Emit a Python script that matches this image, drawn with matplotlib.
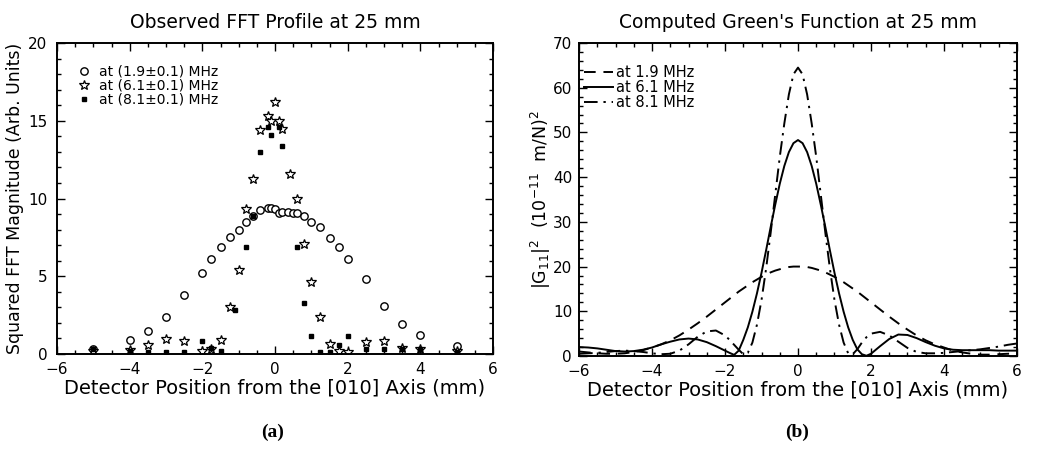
import matplotlib
matplotlib.use("Agg")
import matplotlib.pyplot as plt
from matplotlib.ticker import MultipleLocator

# ---------------- data: panel (a) ----------------
x_19 = [-5, -4, -3.5, -3, -2.5, -2, -1.75, -1.5, -1.25, -1.0, -0.8, -0.6, -0.4, -0.2, -0.1,
        0.0, 0.1, 0.2, 0.35, 0.5, 0.6, 0.8, 1.0, 1.25, 1.5, 1.75, 2.0, 2.5, 3.0, 3.5, 4.0, 5.0]
y_19 = [0.3, 0.9, 1.5, 2.35, 3.8, 5.2, 6.1, 6.9, 7.5, 8.0, 8.5, 8.9, 9.25, 9.4, 9.4,
        9.35, 9.1, 9.15, 9.15, 9.1, 9.05, 8.85, 8.5, 8.2, 7.45, 6.85, 6.1, 4.8, 3.1, 1.95, 1.25, 0.5]

x_61 = [-5, -4, -3.5, -3, -2.5, -2, -1.75, -1.5, -1.25, -1.0, -0.8, -0.6, -0.4, -0.2, -0.1,
        0.0, 0.1, 0.2, 0.4, 0.6, 0.8, 1.0, 1.25, 1.5, 1.75, 2.0, 2.5, 3.0, 3.5, 4.0, 5.0]
y_61 = [0.2, 0.25, 0.6, 0.95, 0.85, 0.2, 0.3, 0.9, 3.0, 5.4, 9.3, 11.25, 14.4, 15.3, 15.0,
        16.2, 15.0, 14.5, 11.6, 10.0, 7.1, 4.65, 2.4, 0.65, 0.2, 0.1, 0.8, 0.85, 0.4, 0.3, 0.2]

x_81 = [-5, -4, -3.5, -3, -2.5, -2, -1.75, -1.5, -1.1, -0.8, -0.6, -0.4, -0.2, -0.1,
        0.1, 0.2, 0.6, 0.8, 1.0, 1.25, 1.5, 1.75, 2.0, 2.5, 3.0, 3.5, 4.0, 5.0]
y_81 = [0.3, 0.2, 0.15, 0.15, 0.1, 0.85, 0.4, 0.2, 2.85, 6.9, 8.9, 13.0, 14.6, 14.1,
        14.6, 13.4, 6.85, 3.3, 1.15, 0.1, 0.1, 0.6, 1.15, 0.3, 0.3, 0.3, 0.3, 0.1]

labels_a = ["at (1.9\u00b10.1) MHz", "at (6.1\u00b10.1) MHz", "at (8.1\u00b10.1) MHz"]

# ---------------- data: panel (b) ----------------
x_g = [-6, -5.75, -5.5, -5.25, -5, -4.75, -4.5, -4.25, -4, -3.75, -3.5, -3.25, -3, -2.75,
       -2.5, -2.25, -2, -1.875, -1.75, -1.625, -1.5, -1.375, -1.25, -1.125, -1, -0.875,
       -0.75, -0.625, -0.5, -0.375, -0.25, -0.125, 0, 0.125, 0.25, 0.375, 0.5, 0.625, 0.75,
       0.875, 1, 1.125, 1.25, 1.375, 1.5, 1.625, 1.75, 1.875, 2, 2.25, 2.5, 2.75, 3, 3.25,
       3.5, 3.75, 4, 4.25, 4.5, 4.75, 5, 5.25, 5.5, 5.75, 6]
g_19 = [1.0, 0.8, 0.6, 0.5, 0.5, 0.6, 0.9, 1.3, 1.9, 2.6, 3.5, 4.6, 5.9, 7.3,
        8.8, 10.4, 12.0, 12.8, 13.6, 14.4, 15.1, 15.8, 16.5, 17.1, 17.7, 18.2,
        18.7, 19.1, 19.4, 19.7, 19.9, 20.0, 20.0, 20.0, 19.9, 19.7, 19.4, 19.1, 18.7,
        18.2, 17.7, 17.1, 16.5, 15.8, 15.1, 14.4, 13.6, 12.8, 12.0, 10.4, 8.8, 7.3, 5.9, 4.6,
        3.5, 2.6, 1.9, 1.2, 0.8, 0.5, 0.3, 0.3, 0.4, 0.5, 0.6]
g_61 = [2.0, 1.9, 1.7, 1.4, 1.1, 1.0, 1.1, 1.4, 1.9, 2.6, 3.2, 3.7, 3.9, 3.7,
        3.1, 2.2, 1.2, 0.7, 0.25, 1.2, 3.6, 6.4, 9.9, 14.0, 18.6, 23.6,
        28.8, 33.8, 38.5, 42.5, 45.6, 47.6, 48.3, 47.6, 45.6, 42.5, 38.5, 33.8, 28.8,
        23.6, 18.6, 14.0, 9.9, 6.4, 3.6, 1.5, 0.4, 0.05, 0.5, 2.2, 3.8, 4.8, 4.7, 4.0,
        3.1, 2.3, 1.7, 1.4, 1.3, 1.3, 1.3, 1.3, 1.2, 1.2, 1.2]
g_81 = [0.5, 0.6, 0.7, 0.9, 1.1, 1.2, 1.1, 0.9, 0.6, 0.4, 0.5, 1.2, 2.6, 4.3,
        5.5, 5.7, 4.6, 3.6, 2.5, 1.4, 0.4, 0.7, 3.0, 7.0, 12.5, 19.5,
        27.5, 36.0, 44.5, 52.0, 58.5, 63.0, 64.5, 63.0, 58.5, 52.0, 44.5, 36.0, 27.5,
        19.5, 12.5, 7.0, 3.0, 0.6, 0.4, 1.5, 3.0, 4.2, 5.0, 5.4, 4.6, 3.2, 1.8, 0.9,
        0.6, 0.6, 0.7, 0.9, 1.1, 1.3, 1.5, 1.8, 2.1, 2.5, 2.8]
labels_b = ["at 1.9 MHz", "at 6.1 MHz", "at 8.1 MHz"]

# ---------------- figure ----------------
plt.rcParams['font.family'] = ['DejaVu Sans']
fig = plt.figure(figsize=(10.39, 4.5), dpi=100)
axa = fig.add_axes([0.0549, 0.2133, 0.4196, 0.6911])
axb = fig.add_axes([0.5573, 0.2089, 0.4215, 0.6955])


def style(ax, ymaj, ymin):
    ax.set_xlim(-6, 6)
    ax.xaxis.set_major_locator(MultipleLocator(2))
    ax.xaxis.set_minor_locator(MultipleLocator(0.5))
    ax.yaxis.set_major_locator(MultipleLocator(ymaj))
    ax.yaxis.set_minor_locator(MultipleLocator(ymin))
    ax.tick_params(which='both', direction='in', top=True, right=True,
                   labelsize=11, width=1.0)
    ax.tick_params(axis='x', pad=6)
    ax.tick_params(axis='y', pad=7)
    ax.tick_params(which='major', length=6)
    ax.tick_params(which='minor', length=3)
    for s in ax.spines.values():
        s.set_linewidth(1.4)
    ax.set_xlabel("Detector Position from the [010] Axis (mm)", fontsize=14, labelpad=1)


# panel (a)
axa.plot(x_19, y_19, 'o', mfc='white', mec='black', ms=5.3, mew=1.0, ls='none', label=labels_a[0])
axa.plot(x_61, y_61, '*', mfc='white', mec='black', ms=7.5, mew=0.9, ls='none', label=labels_a[1])
axa.plot(x_81, y_81, 's', mfc='black', mec='black', ms=3.2, ls='none', label=labels_a[2])
axa.set_ylim(0, 20)
style(axa, 5, 1)
axa.set_ylabel("Squared FFT Magnitude (Arb. Units)", fontsize=12.5, labelpad=3)
axa.set_title("Observed FFT Profile at 25 mm", fontsize=13.5, pad=11)
axa.legend(loc='upper left', bbox_to_anchor=(0.045, 0.93), frameon=False, fontsize=10,
           handlelength=1.0, handletextpad=0.6, labelspacing=0.0,
           borderaxespad=0.0, borderpad=0.0)

# panel (b)
axb.plot(x_g, g_19, color='black', lw=1.4, ls=(0, (6, 4)), label=labels_b[0])
axb.plot(x_g, g_61, color='black', lw=1.4, ls='-', label=labels_b[1])
axb.plot(x_g, g_81, color='black', lw=1.4, ls=(0, (7, 3, 1.2, 3)), label=labels_b[2])
axb.set_ylim(0, 70)
style(axb, 10, 2)
axb.tick_params(axis='y', pad=5)
axb.set_ylabel(r"$|\mathrm{G}_{11}|^2\ \ (10^{-11}\ \ \mathrm{m/N})^2$", fontsize=12.5, labelpad=0)
axb.set_title("Computed Green's Function at 25 mm", fontsize=13.5, pad=11)
axb.legend(loc='upper left', bbox_to_anchor=(0.012, 0.93), frameon=False, fontsize=10.5,
           handlelength=2.0, handletextpad=0.2, labelspacing=0.0,
           borderaxespad=0.0, borderpad=0.0)

fig.text(0.262, 0.03, "(a)", fontsize=14, fontweight='bold', family='Liberation Serif', ha='center')
fig.text(0.767, 0.03, "(b)", fontsize=14, fontweight='bold', family='Liberation Serif', ha='center')

fig.savefig("out.png", dpi=100)
